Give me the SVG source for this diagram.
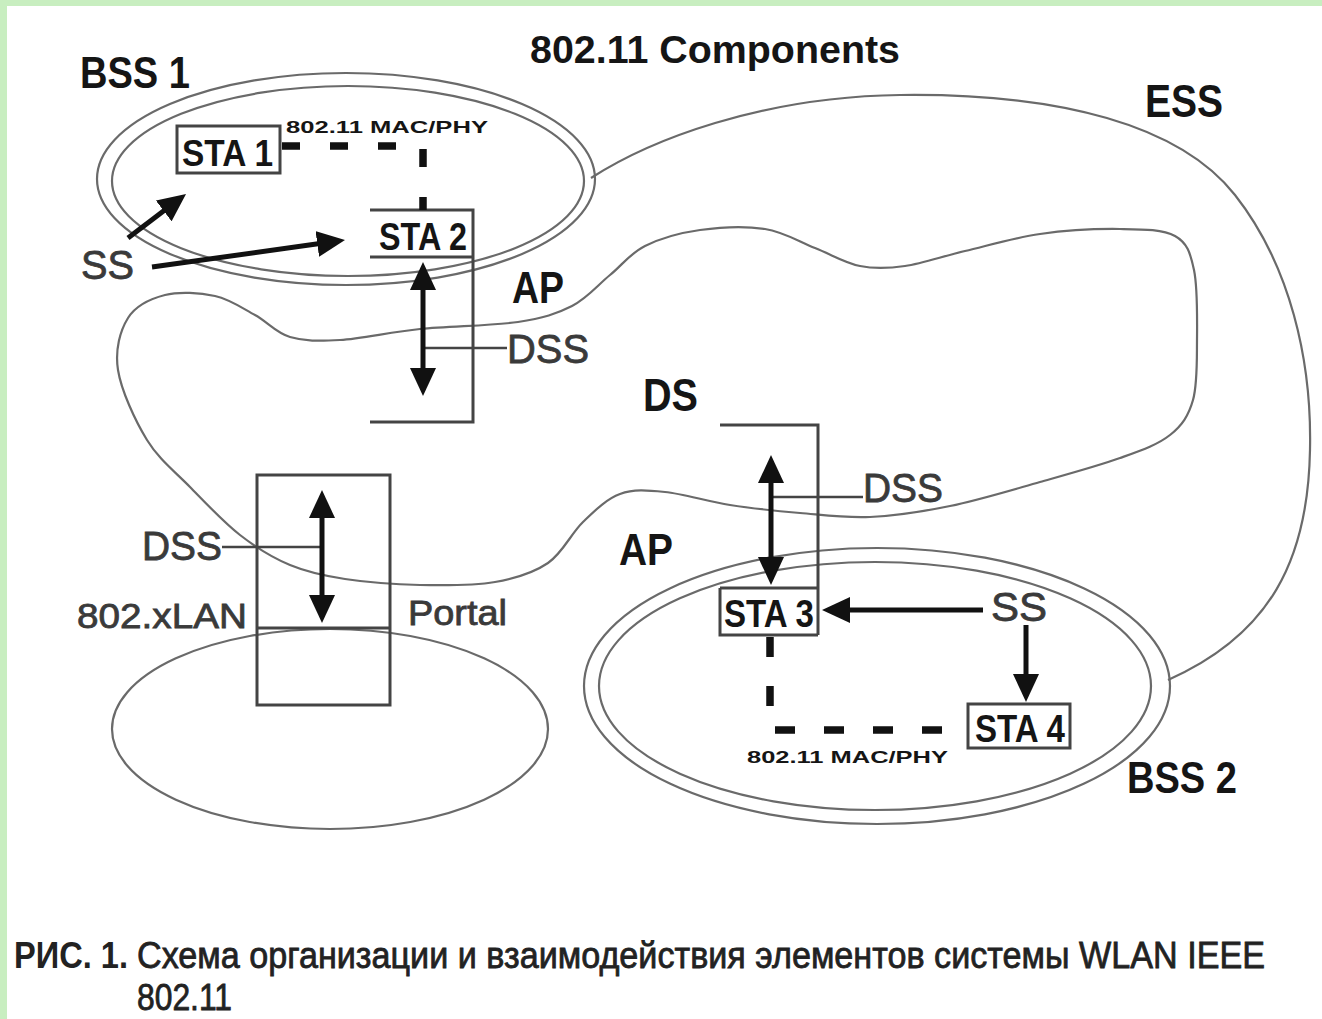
<svg xmlns="http://www.w3.org/2000/svg" width="1322" height="1019" viewBox="0 0 1322 1019">
<style>
.bg{fill:#fff}
.frame{fill:#c8eec0}
.ell{fill:none;stroke:#6a6a6a;stroke-width:2.2}
.box{fill:none;stroke:#444;stroke-width:3}
.arr{fill:none;stroke:#111;stroke-width:5}
.thin{fill:none;stroke:#444;stroke-width:2.5}
.dash{fill:none;stroke:#111;stroke-width:7.5}
.lb{font-family:"Liberation Sans Narrow","Liberation Sans",Arial,sans-serif;font-weight:bold;fill:#151515}
.lr{font-family:"Liberation Sans Narrow","Liberation Sans",Arial,sans-serif;font-weight:normal;fill:#3a3a3a;stroke:#3a3a3a;stroke-width:0.8}
.cap{font-family:"Liberation Sans Narrow","Liberation Sans",Arial,sans-serif;fill:#222}
</style>
<defs>
<marker id="ah" viewBox="0 0 28 26" refX="8" refY="13" markerWidth="28" markerHeight="26" markerUnits="userSpaceOnUse" orient="auto-start-reverse">
<path d="M0,0 L28,13 L0,26 z" fill="#111"/>
</marker>
</defs>
<rect class="bg" x="0" y="0" width="1322" height="1019"/>
<rect class="frame" x="0" y="0" width="1322" height="6"/>
<rect class="frame" x="0" y="0" width="7" height="1019"/>

<text class="lb" x="530" y="63" font-size="39" textLength="370" lengthAdjust="spacingAndGlyphs">802.11 Components</text>

<g id="ess">
<path class="ell" d="M591,178 C650,140 760,97 900,95 C1060,93 1180,125 1235,195 C1290,265 1312,360 1310,450 C1308,560 1270,635 1168,680"/>
<text class="lb" x="1145" y="117" font-size="46" textLength="78" lengthAdjust="spacingAndGlyphs">ESS</text>
</g>

<g id="ds">
<path class="ell" d="M147,440 C135,420.5 121.2,390.3 118,370 S120.2,330.5 128,318 S150.5,298.7 165,295 S200,292.7 215,296 S242.5,308.2 255,315 S275.8,332.8 290,337 S318.3,341.3 340,340 S390.3,332 420,329 S492.7,325.8 518,322 S556.7,313.8 572,306 S597.8,285 610,275 S630,253.5 645,246 S680,232.8 700,230 S745.8,226 765,229 S799.2,241.8 815,248 S845,263 860,266 S887.5,268.5 905,266 S942.5,256.3 965,251 S1014.2,237.7 1040,234 S1097.5,228.7 1120,229 S1162.7,229.2 1175,236 S1190.3,252.7 1194,270 S1197.2,318.3 1197,340 S1197.5,384.2 1193,400 S1182.2,425.3 1170,435 S1141.7,450.2 1120,458 S1068.3,474 1040,482 S978.3,500.2 950,506 S895,515.8 870,517 S823.3,515 800,513 S752.5,508.5 730,505 S683.3,493.8 665,492 S633.7,489 620,494 S595,510.5 583,522 S562.7,553 548,563 S516.3,578.3 495,582 S445,585.5 420,585 S366.7,582.3 345,579 S307.5,572.3 290,565 S256.7,548 240,535 S205.5,502.8 190,487 S159,459.5 147,440 Z"/>
<text class="lb" x="643" y="411" font-size="46" textLength="55" lengthAdjust="spacingAndGlyphs">DS</text>
</g>

<g id="bss1">
<ellipse class="ell" cx="346" cy="179" rx="249" ry="106"/>
<ellipse class="ell" cx="348" cy="181" rx="236" ry="95"/>
<text class="lb" x="80" y="88" font-size="45" textLength="110" lengthAdjust="spacingAndGlyphs">BSS 1</text>
</g>

<g id="bss2">
<ellipse class="ell" cx="877" cy="686" rx="293" ry="138"/>
<ellipse class="ell" cx="875" cy="686" rx="276" ry="124"/>
<text class="lb" x="1127" y="793" font-size="45" textLength="110" lengthAdjust="spacingAndGlyphs">BSS 2</text>
</g>

<g id="lan">
<ellipse class="ell" cx="330" cy="729" rx="218" ry="100"/>
</g>

<g id="sta1">
<rect class="box" x="177" y="126" width="103" height="47"/>
<text class="lb" x="182" y="166" font-size="37" textLength="91" lengthAdjust="spacingAndGlyphs">STA 1</text>
</g>

<g id="ap1">
<path class="box" d="M370,210 H473 V422 H370 M370,257 H473"/>
<text class="lb" x="379" y="250" font-size="38" textLength="88" lengthAdjust="spacingAndGlyphs">STA 2</text>
<text class="lb" x="512" y="303" font-size="45" textLength="52" lengthAdjust="spacingAndGlyphs">AP</text>
<text class="lr" x="507" y="363" font-size="41" textLength="82" lengthAdjust="spacingAndGlyphs">DSS</text>
</g>

<g id="ap2">
<path class="box" d="M720,425 H818 V635 M720,588 H818 M720,588 V635 H818"/>
<text class="lb" x="724" y="627" font-size="38" textLength="90" lengthAdjust="spacingAndGlyphs">STA 3</text>
<text class="lb" x="619" y="565" font-size="45" textLength="54" lengthAdjust="spacingAndGlyphs">AP</text>
<text class="lr" x="863" y="502" font-size="40" textLength="80" lengthAdjust="spacingAndGlyphs">DSS</text>
</g>

<g id="sta4">
<rect class="box" x="968" y="704" width="102" height="44"/>
<text class="lb" x="975" y="742" font-size="38" textLength="90" lengthAdjust="spacingAndGlyphs">STA 4</text>
</g>

<g id="portal">
<rect class="box" x="257" y="475" width="133" height="230"/>
<path class="box" d="M257,628 H390"/>
<text class="lr" x="142" y="560" font-size="40" textLength="80" lengthAdjust="spacingAndGlyphs">DSS</text>
<text class="lr" x="77" y="628" font-size="35" textLength="170" lengthAdjust="spacingAndGlyphs">802.xLAN</text>
<text class="lr" x="408" y="625" font-size="35" textLength="99" lengthAdjust="spacingAndGlyphs">Portal</text>
</g>

<g id="ss1">
<text class="lr" x="81" y="279" font-size="40" textLength="53" lengthAdjust="spacingAndGlyphs">SS</text>
</g>
<g id="ss2">
<text class="lr" x="991" y="621" font-size="40" textLength="56" lengthAdjust="spacingAndGlyphs">SS</text>
</g>

<g id="connectors">
<path class="dash" d="M282,146 H423 V210" stroke-dasharray="18 30"/>
<path class="dash" d="M770,637 V730 H965" stroke-dasharray="20 29"/>
<text class="lb" x="286" y="133" font-size="17" textLength="202" lengthAdjust="spacingAndGlyphs">802.11 MAC/PHY</text>
<text class="lb" x="747" y="763" font-size="17" textLength="201" lengthAdjust="spacingAndGlyphs">802.11 MAC/PHY</text>
<path class="thin" d="M425,348 H507"/>
<path class="thin" d="M771,497 H863"/>
<path class="thin" d="M222,547 H322"/>
<path class="arr" d="M423,282 V376" marker-start="url(#ah)" marker-end="url(#ah)"/>
<path class="arr" d="M771,475 V565" marker-start="url(#ah)" marker-end="url(#ah)"/>
<path class="arr" d="M322,510 V603" marker-start="url(#ah)" marker-end="url(#ah)"/>
<path class="arr" d="M128,238 L170.1,206.1" marker-end="url(#ah)"/>
<path class="arr" d="M152,267 L325.2,242.8" marker-end="url(#ah)"/>
<path class="arr" d="M983,610 H842" marker-end="url(#ah)"/>
<path class="arr" d="M1026,625 V682" marker-end="url(#ah)"/>
</g>

<g id="caption">
<g transform="translate(0,968) scale(1,1.12)">
<text class="cap" x="14" y="0" font-size="33" font-weight="bold" textLength="114" lengthAdjust="spacingAndGlyphs">РИС. 1.</text>
<text class="cap" x="137" y="0" font-size="33" stroke="#222" stroke-width="0.7" textLength="1128" lengthAdjust="spacingAndGlyphs">Схема организации и взаимодействия элементов системы WLAN IEEE</text>
</g>
<g transform="translate(0,1010) scale(1,1.12)">
<text class="cap" x="137" y="0" font-size="33" stroke="#222" stroke-width="0.7" textLength="95" lengthAdjust="spacingAndGlyphs">802.11</text>
</g>
</g>
</svg>
